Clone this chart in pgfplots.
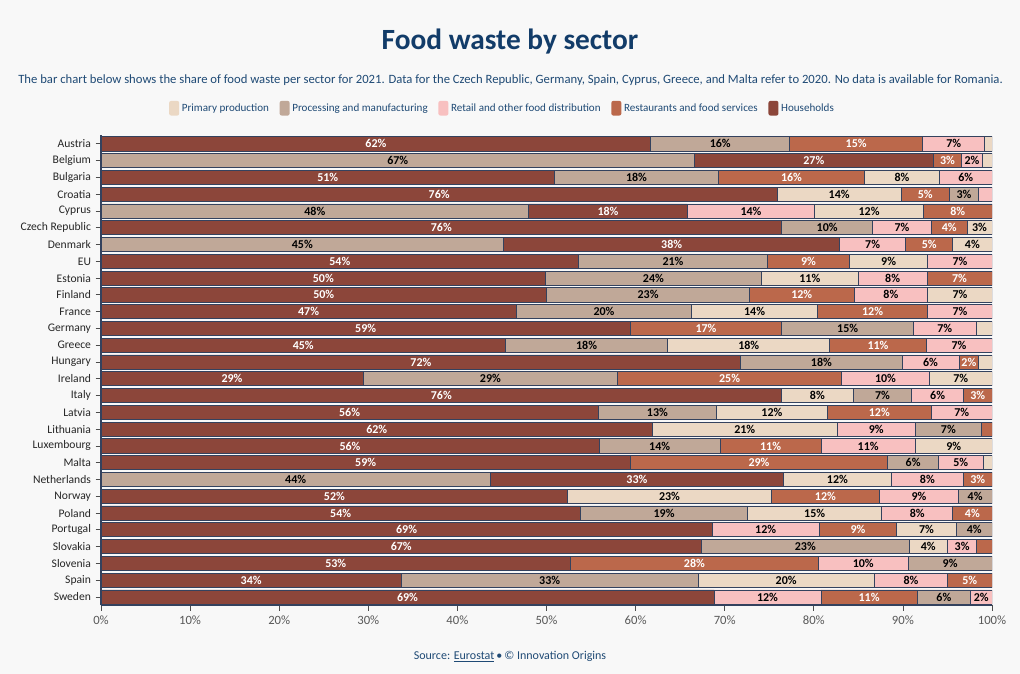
\documentclass[border=0pt]{standalone}
\usepackage{fontspec}
\setmainfont{Carlito}
\usepackage{pgfplots}
\usepackage{pgfplotstable}
\pgfplotsset{compat=1.18}
\definecolor{bg}{HTML}{F8F8F8}
\definecolor{cP}{HTML}{EBD8C4}
\definecolor{cM}{HTML}{C0A898}
\definecolor{cR}{HTML}{F8C0C0}
\definecolor{cS}{HTML}{BB684B}
\definecolor{cH}{HTML}{8C463A}
\definecolor{edge}{HTML}{34425E}
\definecolor{navy}{HTML}{123C69}
\definecolor{subnavy}{HTML}{1F4A75}

% columns: idx (0 = Austria ... 27 = Sweden), P primary, M processing, R retail, S restaurants, H households
\pgfplotstableread{
idx P M R S H
0 0 0 0 0 61.7
1 0 66.6 0 0 0
2 0 0 0 0 50.9
3 0 0 0 0 75.9
4 0 48.0 0 0 0
5 0 0 0 0 76.4
6 0 45.2 0 0 0
7 0 0 0 0 53.6
8 0 0 0 0 49.9
9 0 0 0 0 50.0
10 0 0 0 0 46.6
11 0 0 0 0 59.4
12 0 0 0 0 45.4
13 0 0 0 0 71.8
14 0 0 0 0 29.4
15 0 0 0 0 76.4
16 0 0 0 0 55.8
17 0 0 0 0 61.9
18 0 0 0 0 55.9
19 0 0 0 0 59.4
20 0 43.7 0 0 0
21 0 0 0 0 52.4
22 0 0 0 0 53.8
23 0 0 0 0 68.6
24 0 0 0 0 67.4
25 0 0 0 0 52.7
26 0 0 0 0 33.7
27 0 0 0 0 68.8
}\rankone
\pgfplotstableread{
idx P M R S H
0 0 15.6 0 0 0
1 0 0 0 0 26.8
2 0 18.4 0 0 0
3 13.9 0 0 0 0
4 0 0 0 0 17.8
5 0 10.2 0 0 0
6 0 0 0 0 37.7
7 0 21.2 0 0 0
8 0 24.2 0 0 0
9 0 22.8 0 0 0
10 0 19.7 0 0 0
11 0 0 0 17.0 0
12 0 18.2 0 0 0
13 0 18.1 0 0 0
14 0 28.6 0 0 0
15 8.0 0 0 0 0
16 0 13.3 0 0 0
17 20.7 0 0 0 0
18 0 13.6 0 0 0
19 0 0 0 28.9 0
20 0 0 0 0 32.9
21 22.8 0 0 0 0
22 0 18.8 0 0 0
23 0 0 12.0 0 0
24 0 23.3 0 0 0
25 0 0 0 27.8 0
26 0 33.3 0 0 0
27 0 0 12.0 0 0
}\ranktwo
\pgfplotstableread{
idx P M R S H
0 0 0 0 14.9 0
1 0 0 0 3.2 0
2 0 0 0 16.4 0
3 0 0 0 5.4 0
4 0 0 14.3 0 0
5 0 0 6.6 0 0
6 0 0 7.4 0 0
7 0 0 0 9.2 0
8 10.9 0 0 0 0
9 0 0 0 11.7 0
10 14.1 0 0 0 0
11 0 14.8 0 0 0
12 18.2 0 0 0 0
13 0 0 6.4 0 0
14 0 0 0 25.1 0
15 0 6.6 0 0 0
16 12.4 0 0 0 0
17 0 0 8.8 0 0
18 0 0 0 11.3 0
19 0 5.7 0 0 0
20 12.1 0 0 0 0
21 0 0 0 12.2 0
22 15.0 0 0 0 0
23 0 0 0 8.7 0
24 4.3 0 0 0 0
25 0 0 10.1 0 0
26 19.8 0 0 0 0
27 0 0 0 10.8 0
}\rankthree
\pgfplotstableread{
idx P M R S H
0 0 0 7.0 0 0
1 0 0 2.3 0 0
2 8.4 0 0 0 0
3 0 3.3 0 0 0
4 12.2 0 0 0 0
5 0 0 0 4.0 0
6 0 0 0 5.3 0
7 8.8 0 0 0 0
8 0 0 7.7 0 0
9 0 0 8.3 0 0
10 0 0 0 12.4 0
11 0 0 7.0 0 0
12 0 0 0 10.8 0
13 0 0 0 2.2 0
14 0 0 9.9 0 0
15 0 0 5.8 0 0
16 0 0 0 11.7 0
17 0 7.4 0 0 0
18 0 0 10.6 0 0
19 0 0 5.0 0 0
20 0 0 8.1 0 0
21 0 0 8.8 0 0
22 0 0 8.0 0 0
23 6.7 0 0 0 0
24 0 0 3.3 0 0
25 0 9.4 0 0 0
26 0 0 8.2 0 0
27 0 6.0 0 0 0
}\rankfour
\pgfplotstableread{
idx P M R S H
0 0.8 0 0 0 0
1 1.1 0 0 0 0
2 0 0 5.9 0 0
3 0 0 1.5 0 0
4 0 0 0 7.7 0
5 2.8 0 0 0 0
6 4.4 0 0 0 0
7 0 0 7.2 0 0
8 0 0 0 7.3 0
9 7.2 0 0 0 0
10 0 0 7.2 0 0
11 1.8 0 0 0 0
12 0 0 7.4 0 0
13 1.5 0 0 0 0
14 7.0 0 0 0 0
15 0 0 0 3.2 0
16 0 0 6.8 0 0
17 0 0 0 1.2 0
18 8.6 0 0 0 0
19 1.0 0 0 0 0
20 0 0 0 3.2 0
21 0 3.8 0 0 0
22 0 0 0 4.4 0
23 0 4.0 0 0 0
24 0 0 0 1.7 0
25 0 0 0 0 0
26 0 0 0 5.0 0
27 0 0 2.4 0 0
}\rankfive

\pgfplotsset{
  seg/.style n args={3}{fill=#1, draw=edge, line width=0.6pt, forget plot,
    visualization depends on={\thisrow{#2}\as\rawv},
    nodes near coords={\ifdim\rawv pt<1.95pt\relax\else\pgfmathprintnumber[fixed,precision=0,assume math mode=true]{\rawv}\%\fi},
    every node near coord/.append style={text=#3, anchor=center, inner sep=0pt,
      font=\bfseries\fontsize{9}{10}\selectfont}},
}
\newcommand\segs[1]{%
  \addplot[seg={cH}{H}{white}] table[x=H, y expr=27-\thisrow{idx}]{#1};
  \addplot[seg={cM}{M}{black}] table[x=M, y expr=27-\thisrow{idx}]{#1};
  \addplot[seg={cS}{S}{white}] table[x=S, y expr=27-\thisrow{idx}]{#1};
  \addplot[seg={cR}{R}{black}] table[x=R, y expr=27-\thisrow{idx}]{#1};
  \addplot[seg={cP}{P}{black}] table[x=P, y expr=27-\thisrow{idx}]{#1};
}

\begin{document}
\begin{tikzpicture}
\useasboundingbox[fill=bg] (0,0) rectangle (765pt,-505.5pt);
\node[font=\bfseries\fontsize{22}{26}\selectfont, text=navy] at (382.5pt,-31.5pt) {Food waste by sector};
\node[font=\fontsize{9.5}{11}\selectfont, text=subnavy] at (382.9pt,-60pt) {The bar chart below shows the share of food waste per sector for 2021. Data for the Czech Republic, Germany, Spain, Cyprus, Greece, and Malta refer to 2020. No data is available for Romania.};
\node[font=\fontsize{9}{10}\selectfont, text=subnavy] at (382.5pt,-492.75pt) {Source: \underline{Eurostat}\,•\,© Innovation Origins};
\begin{axis}[
  at={(75.75pt,-454pt)}, anchor=south west,
  scale only axis, width=668.25pt, height=352.4pt,
  xbar stacked, bar width=0.84,
  xmin=0, xmax=100, ymin=-0.5, ymax=27.5,
  ytick={0,...,27},
  yticklabels={Sweden,Spain,Slovenia,Slovakia,Portugal,Poland,Norway,Netherlands,Malta,Luxembourg,Lithuania,Latvia,Italy,Ireland,Hungary,Greece,Germany,France,Finland,Estonia,EU,Denmark,Czech Republic,Cyprus,Croatia,Bulgaria,Belgium,Austria},
  xtick={0,10,...,100},
  xticklabels={0\%,10\%,20\%,30\%,40\%,50\%,60\%,70\%,80\%,90\%,100\%},
  axis x line*=bottom, axis y line*=left,
  axis line style={draw=edge, line width=0.8pt},
  tick align=outside, major tick length=4pt,
  tick style={draw=black!70, line width=0.6pt},
  yticklabel style={font=\fontsize{8.7}{10}\selectfont, text=black!85},
  xticklabel style={font=\fontsize{9.5}{11}\selectfont, text=black!65},
  legend columns=5,
  legend style={draw=none, fill=none, at={(axis description cs:0.451,1.058)}, anchor=center,
    font=\fontsize{8.3}{9}\selectfont, text=subnavy,
    /tikz/every even column/.append style={column sep=6pt}},
  legend cell align=left,
  legend image code/.code={\fill[#1, draw=none, rounded corners=1.5pt] (0pt,-5.5pt) rectangle (7.5pt,5.5pt);},
]
\addlegendimage{fill=cP}\addlegendentry{Primary production}
\addlegendimage{fill=cM}\addlegendentry{Processing and manufacturing}
\addlegendimage{fill=cR}\addlegendentry{Retail and other food distribution}
\addlegendimage{fill=cS}\addlegendentry{Restaurants and food services}
\addlegendimage{fill=cH}\addlegendentry{Households}
\segs{\rankone}
\segs{\ranktwo}
\segs{\rankthree}
\segs{\rankfour}
\segs{\rankfive}
\end{axis}
\end{tikzpicture}
\end{document}
